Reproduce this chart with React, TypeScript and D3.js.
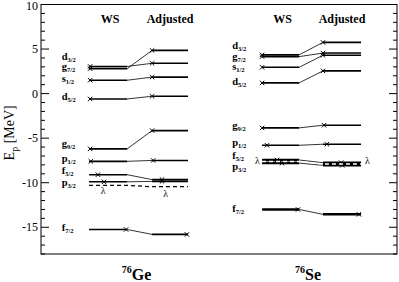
import React from "react";
import * as d3 from "d3";

// single-particle proton levels, energies in MeV
const levels = ["d|3/2", "g|7/2", "s|1/2", "d|5/2", "g|9/2", "p|1/2", "f|5/2", "p|3/2", "f|7/2"];

const geWS = [2.8, 3.05, 1.5, -0.6, -6.2, -7.6, -9.1, -9.9, -15.25];
const geAdj = [4.85, 3.4, 1.85, -0.3, -4.15, -7.5, -9.65, -9.85, -15.8];
const seWS = [4.35, 4.15, 2.95, 1.2, -3.85, -5.8, -7.45, -7.8, -13.0];
const seAdj = [5.75, 4.55, 4.3, 2.55, -3.55, -5.68, -7.75, -8.05, -13.55];

// fermi level (lambda)
const geLambda = [-10.3, -10.45];
const seLambda = [-7.62, -7.9];

// where the markers sit along each level
const geWSMark = [1.38, 1.38, 1.38, 1.38, 1.38, 1.4, 1.6, 1.77, 2.39];
const geAdjMark = [3.12, 3.12, 3.12, 3.12, 3.12, 3.15, 3.4, 3.4, 4.1];
const seWSMark = [6.21, 6.21, 6.21, 6.21, 6.21, 6.35, 6.63, 6.77, 7.22];
const seAdjMark = [7.92, 7.92, 7.92, 7.92, 7.95, 8.03, 8.43, 8.46, 8.93];

// label heights (MeV)
const geLabelE = [3.8, 2.6, 1.25, -0.75, -6.0, -7.7, -9.0, -10.35, -15.4];
const seLabelE = [4.95, 3.75, 2.6, 1.0, -4.0, -5.9, -7.3, -8.6, -13.3];

const yTicks = [10, 5, 0, -5, -10, -15];

const width = 399,
  height = 282,
  left = 41,
  right = 397,
  top = 4.5,
  bottom = 254;

const x = d3.scaleLinear().domain([0, 10]).range([left, right]);
const y = d3.scaleLinear().domain([-18, 10]).range([bottom, top]);

const serif = "'Times New Roman', 'Liberation Serif', Times, serif";

const groups = [
  { ws: geWS, adj: geAdj, wsMark: geWSMark, adjMark: geAdjMark, labelE: geLabelE, cols: [1.35, 2.42, 3.12, 4.13], labelX: 0.58, lambda: geLambda, name: "Ge", lambdaColor: "#000" },
  { ws: seWS, adj: seAdj, wsMark: seWSMark, adjMark: seAdjMark, labelE: seLabelE, cols: [6.21, 7.25, 7.92, 8.99], labelX: 5.37, lambda: seLambda, name: "Se", lambdaColor: "#fff" },
];

const line = d3
  .line<[number, number]>()
  .x(d => x(d[0]))
  .y(d => y(d[1]));

const Cross = ({ cx, cy }: { cx: number; cy: number }) => {
  const s = 2.2;
  return (
    <path
      d={`M${cx - s},${cy - s}L${cx + s},${cy + s}M${cx - s},${cy + s}L${cx + s},${cy - s}`}
      stroke="#000"
      strokeWidth={1}
    />
  );
};

const App = () => {
  const majorTicks = yTicks;
  const minorTicks = d3.range(-18, 11, 1).filter(v => v % 5 !== 0);
  return (
    <svg width={width} height={height} style={{ position: "absolute", left: 0, top: 0 }}>
      <rect x={left} y={top} width={right - left} height={bottom - top} fill="none" stroke="#000" strokeWidth={1} />
      {majorTicks.map(t => (
        <g key={"M" + t}>
          <line x1={left} x2={left + 8} y1={y(t)} y2={y(t)} stroke="#000" />
          <line x1={right - 8} x2={right} y1={y(t)} y2={y(t)} stroke="#000" />
          <text x={left - 3} y={Math.max(y(t) + 4, 10)} textAnchor="end" fontFamily={serif} fontSize={12}>
            {t}
          </text>
        </g>
      ))}
      {minorTicks.map(t => (
        <g key={"m" + t}>
          <line x1={left} x2={left + 4} y1={y(t)} y2={y(t)} stroke="#000" />
          <line x1={right - 4} x2={right} y1={y(t)} y2={y(t)} stroke="#000" />
        </g>
      ))}
      <text transform={`translate(14,${y(-4.4)}) rotate(-90)`} textAnchor="middle" fontFamily={serif} fontSize={14}>
        E<tspan fontSize={10} dy={4}>p</tspan>
        <tspan dy={-4}> [MeV]</tspan>
      </text>

      {groups.map(g => {
        const [a0, a1, b0, b1] = g.cols;
        return (
          <g key={g.name}>
            <text x={(x(a0) + x(a1)) / 2 + 2} y={23} textAnchor="middle" fontFamily={serif} fontWeight="bold" fontSize={12}>
              WS
            </text>
            <text x={(x(b0) + x(b1)) / 2} y={23} textAnchor="middle" fontFamily={serif} fontWeight="bold" fontSize={12}>
              Adjusted
            </text>
            {levels.map((lv, i) => {
              const [n, j] = lv.split("|");
              const ws = g.ws[i],
                ad = g.adj[i];
              const thick = g.name === "Se" && i >= 6 ? 2.5 : 1.6;
              return (
                <g key={lv}>
                  <path d={line([[a0, ws], [a1, ws]]) || ""} stroke="#000" strokeWidth={thick} fill="none" />
                  <path d={line([[a1, ws], [b0, ad]]) || ""} stroke="#000" strokeWidth={0.8} fill="none" />
                  <path d={line([[b0, ad], [b1, ad]]) || ""} stroke="#000" strokeWidth={thick} fill="none" />
                  <Cross cx={x(g.wsMark[i])} cy={y(ws)} />
                  <Cross cx={x(g.adjMark[i])} cy={y(ad)} />
                  <text x={x(g.labelX)} y={y(g.labelE[i])} fontFamily={serif} fontWeight="bold" fontSize={10.5}>
                    {n}
                    <tspan fontSize={6.5} dy={2}>
                      {j}
                    </tspan>
                  </text>
                </g>
              );
            })}
            <path
              d={line([[a0, g.lambda[0]], [a1, g.lambda[0]], [b0, g.lambda[1]], [b1, g.lambda[1]]]) || ""}
              stroke={g.lambdaColor}
              strokeWidth={1.3}
              strokeDasharray="4,3"
              fill="none"
            />
            <text x={(x(a1) + x(b0)) / 2 - 3} y={280} textAnchor="middle" fontFamily={serif} fontWeight="bold" fontSize={16}>
              <tspan fontSize={10} dy={-7}>76</tspan>
              <tspan dy={7}>{g.name}</tspan>
            </text>
          </g>
        );
      })}
      {/* lambda labels */}
      <text x={x(1.75)} y={y(-11.25)} textAnchor="middle" fontFamily={serif} fontSize={10}>λ</text>
      <text x={x(3.5)} y={y(-11.55)} textAnchor="middle" fontFamily={serif} fontSize={10}>λ</text>
      <text x={x(6.08)} y={y(-7.9)} textAnchor="middle" fontFamily={serif} fontSize={10}>λ</text>
      <text x={x(9.17)} y={y(-7.95)} textAnchor="middle" fontFamily={serif} fontSize={10}>λ</text>
    </svg>
  );
};

export default App;
